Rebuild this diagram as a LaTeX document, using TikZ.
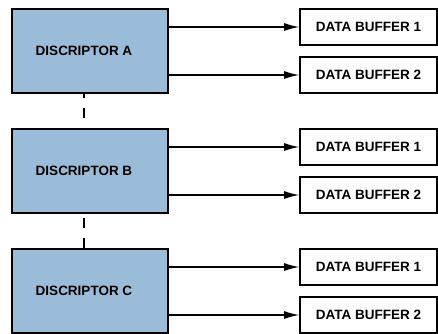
\documentclass[tikz,border=0pt]{standalone}
\usepackage{fontspec}
\setmainfont{Liberation Sans}
\usetikzlibrary{arrows.meta,positioning,calc}
\definecolor{descblue}{HTML}{9BBCD8}

\begin{document}
\begin{tikzpicture}[x=1pt,y=-1pt,
  descbox/.style={draw,line width=1.7pt,fill=descblue,minimum width=156pt,minimum height=84pt,inner sep=0pt},
  bufbox/.style={draw,line width=1.7pt,fill=white,minimum width=137pt,minimum height=36pt,inner sep=0pt,
    font=\fontsize{13.5}{15}\selectfont\bfseries},
  desclab/.style={font=\fontsize{13.5}{15}\selectfont\bfseries,inner sep=0pt},
  arr/.style={line width=1.4pt,-{Latex[length=15pt,width=8pt]}},
  link/.style={line width=1.7pt,dash pattern=on 10pt off 10pt}]
\useasboundingbox (0,0) rectangle (438,333);
% Descriptors with their two data buffers
\foreach \n/\y in {A/9,B/129,C/249} {
  \node[descbox,label={[desclab,name=lab\n,xshift=-6pt]center:DISCRIPTOR \n}] (desc\n) at (90,\y+42) {};
  \node[bufbox] (buf\n1) at (368.5,\y+18) {DATA BUFFER 1};
  \node[bufbox] (buf\n2) at (368.5,\y+66) {DATA BUFFER 2};
  \draw[arr] (desc\n.east |- buf\n1) -- (buf\n1.west);
  \draw[arr] (desc\n.east |- buf\n2) -- (buf\n2.west);
}
% Dashed links between descriptors
\foreach \up/\dn/\ph in {A/B/10,B/C/0} {
  \draw[link,dash phase=\ph pt] (lab\up |- desc\dn.north) -- (lab\up |- desc\up.south);
}
\end{tikzpicture}
\end{document}
